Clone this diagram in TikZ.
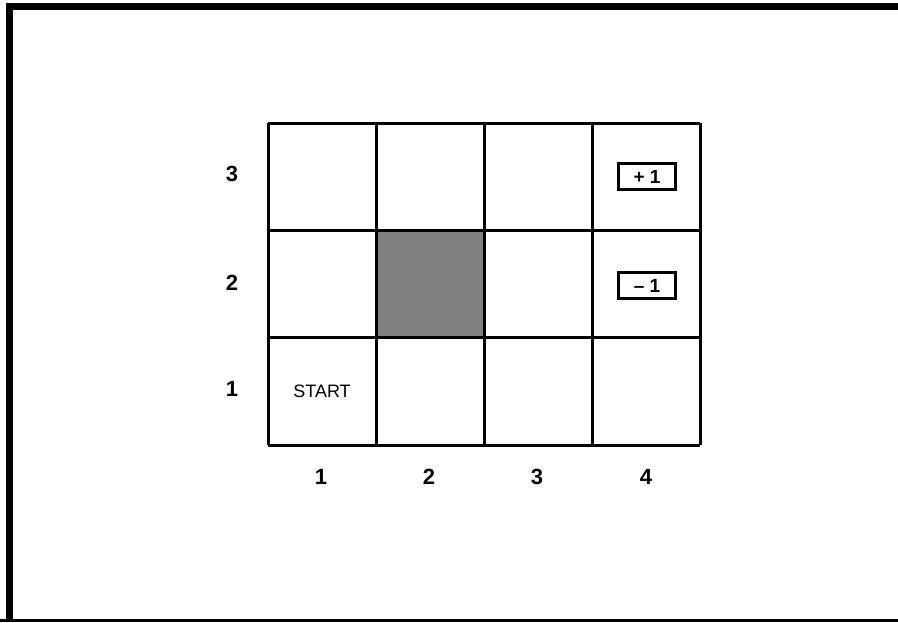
\documentclass[tikz,border=0pt]{standalone}
\usepackage{fontspec}
\setmainfont{Liberation Sans}
\usetikzlibrary{positioning}
\tikzset{
  gridline/.style={line width=3pt},
  axislbl/.style={font=\fontsize{22}{22}\selectfont\bfseries, inner sep=0pt},
  startlbl/.style={font=\fontsize{18}{18}\selectfont, inner sep=0pt},
  reward/.style={draw, line width=2.6pt, minimum width=57pt, minimum height=26pt, inner sep=0pt, font=\fontsize{19}{19}\selectfont\bfseries},
  wall/.style={fill=black!50}
}

\begin{document}
\begin{tikzpicture}[x=1pt, y=-1pt]
  \useasboundingbox (0,0) rectangle (898,622);
  % frame
  \draw[line width=6.5pt] (9.7,622) -- (9.7,6.7) -- (898,6.7);
  \draw[line width=3pt] (0,620.5) -- (898,620.5);
  % blocked cell
  \fill[wall] (376,230.3) rectangle (484,337.7);
  % grid
  \foreach \x in {268,376,484,592,700}
    \draw[gridline] (\x,123) -- (\x,445);
  \foreach \y in {123,230.3,337.7,445}
    \draw[gridline] (268,\y) -- (700,\y);
  % row and column numbers
  \node[axislbl] (r3) at (232,174) {3};
  \node[axislbl] (r2) at (232,283) {2};
  \node[axislbl] (r1) at (232,389) {1};
  \node[axislbl] (c1) at (321,477) {1};
  \node[axislbl] (c2) at (429,477) {2};
  \node[axislbl] (c3) at (537,477) {3};
  \node[axislbl] (c4) at (646,477) {4};
  % cell contents
  \node[startlbl] (start) at (322,391.5) {START};
  \node[reward] (goal) at (647,176.5) {+ 1\hspace{5pt}};
  \node[reward] (pit) at (647,285.5) {-- 1\hspace{5pt}};
\end{tikzpicture}
\end{document}
